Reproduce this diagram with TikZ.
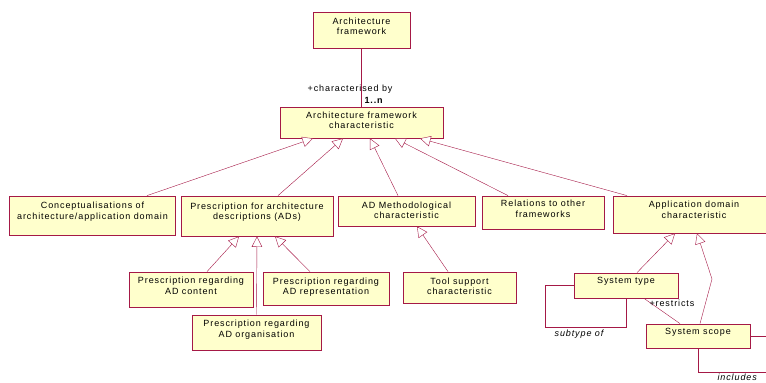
\documentclass[tikz,border=0pt]{standalone}
\usepackage{fontspec}
\setmainfont[LetterSpace=10]{Liberation Sans}
\usepackage{tikz}
\usetikzlibrary{arrows.meta}

\definecolor{boxfill}{RGB}{255,255,204}
\definecolor{umlred}{RGB}{165,25,70}

\begin{document}
\begin{tikzpicture}[
    x=1pt,y=-1pt,font=\fontsize{9}{10.5}\selectfont,
    cls/.style={draw=umlred, fill=boxfill, thick, align=center, inner sep=1pt, text depth=8pt},
    gen/.style={umlred, -{Triangle[open, length=10.5pt, width=10.5pt, fill=white]}},
    assoc/.style={umlred},
    role/.style={font=\fontsize{9}{10}\selectfont},
    roleit/.style={font=\fontsize{9}{10}\selectfont\itshape}
    ]
    \clip (0,0) rectangle (766,383);
    % classes
    \node[cls, minimum width=97, minimum height=36] (af) at (361.5,30) {Architecture\\framework};
    \node[cls, minimum width=163, minimum height=31, text depth=5pt] (afc) at (361.5,122.5) {Architecture framework\\characteristic};
    \node[cls, minimum width=166, minimum height=39, text depth=10pt] (concept) at (92.5,215.5) {Conceptualisations of\\architecture/application domain};
    \node[cls, minimum width=152, minimum height=40, text depth=10pt] (presc) at (257,216) {Prescription for architecture\\descriptions (ADs)};
    \node[cls, minimum width=137, minimum height=30, text depth=2pt] (adm) at (406.5,211) {AD Methodological\\characteristic};
    \node[cls, minimum width=122, minimum height=33] (rel) at (543,212.5) {Relations to other\\frameworks};
    \node[cls, minimum width=162, minimum height=37, text depth=10pt] (appd) at (694,214.5) {Application domain\\characteristic};
    \node[cls, minimum width=124, minimum height=35] (content) at (191,289.5) {Prescription regarding\\AD content};
    \node[cls, minimum width=126, minimum height=33, text depth=5pt] (repr) at (326,288.5) {Prescription regarding\\AD representation};
    \node[cls, minimum width=129, minimum height=35] (org) at (256.5,332.5) {Prescription regarding\\AD organisation};
    \node[cls, minimum width=113, minimum height=31, text depth=3pt] (tool) at (459.5,287.5) {Tool support\\characteristic};
    \node[cls, minimum width=104, minimum height=25, text depth=10pt] (stype) at (626,285.5) {System type};
    \node[cls, minimum width=104, minimum height=24, text depth=10pt] (sscope) at (698,336) {System scope};

    % association
    \draw[assoc] (af) -- (afc);
    \node[role, anchor=east] at (396,89) {+characterised by};
    \node[role, font=\fontsize{9}{10}\selectfont\bfseries, anchor=west] at (361,100) {1..n};

    % generalisations
    \draw[gen] ([xshift=54.5pt]concept.north) -- ([xshift=-48.5pt]afc.south);
    \draw[gen] ([xshift=21pt]presc.north) -- ([xshift=-18.5pt]afc.south);
    \draw[gen] ([xshift=-8.5pt]adm.north) -- ([xshift=8.5pt]afc.south);
    \draw[gen] ([xshift=-35pt]rel.north) -- ([xshift=33.5pt]afc.south);
    \draw[gen] ([xshift=-67pt]appd.north) -- ([xshift=58.5pt]afc.south);
    \draw[gen] ([xshift=16pt]content.north) -- ([xshift=-18pt]presc.south);
    \draw[gen] (org.north) -- (presc.south);
    \draw[gen] ([xshift=-16pt]repr.north) -- ([xshift=18pt]presc.south);
    \draw[gen] ([xshift=-11.5pt]tool.north) -- ([xshift=10.5pt]adm.south);
    \draw[gen] ([xshift=11pt]stype.north) -- ([xshift=-19pt]appd.south);
    \coordinate (bend) at (712,279);
    \draw[gen] ([xshift=2pt]sscope.north) -- (bend) -- ([xshift=3pt]appd.south);

    % system type / scope
    \coordinate (loopst) at (545,327);
    \draw[assoc] (stype.west) -| (loopst) -| (stype.south);
    \node[roleit] at (579,334) {subtype of};
    \draw[assoc] ([xshift=18pt]stype.south) -- ([xshift=-18pt]sscope.north);
    \node[role, anchor=west] at (646,303) {+restricts};
    \coordinate (scR) at (775,336);
    \draw[assoc] (sscope.east) -- (scR);
    \coordinate (scB) at (775,372);
    \draw[assoc] (sscope.south) |- (scB);
    \node[roleit, anchor=west] at (714,377.5) {includes};
\end{tikzpicture}
\end{document}
